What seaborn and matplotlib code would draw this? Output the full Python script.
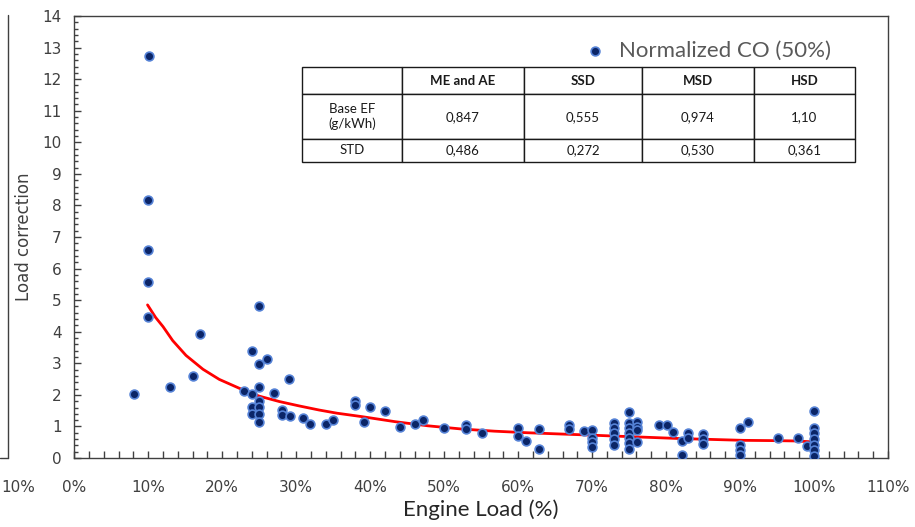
import numpy as np
import pandas as pd
import seaborn as sns
import matplotlib.pyplot as plt
from matplotlib.lines import Line2D
from matplotlib.ticker import MultipleLocator, PercentFormatter

# engine load (%) and normalized CO load correction
load_pct = [10.05, 10, 10, 10, 10, 8.1, 12.9, 16, 17, 25, 24, 25, 26.1, 29, 25, 23, 27, 24,
            25, 24, 25, 24, 25, 25, 28.1, 28.1, 29.1, 30.9, 31.9, 34, 35, 37.9, 37.9, 39.1,
            40, 42, 44, 46, 47.1, 50, 53, 53, 55.1, 60, 60, 61, 62.8, 62.8, 66.9, 66.9,
            68.9, 70, 70, 70, 70, 73, 73, 73, 73, 73, 75, 75, 75, 75, 75, 75, 75, 76.1,
            76.1, 76.1, 76.1, 79, 80.1, 81, 82.1, 82.1, 83, 83, 85, 85, 85, 90, 90, 90,
            90, 91.1, 95.1, 97.8, 99, 100, 100, 100, 100, 100, 100, 100]
load_corr = [12.73, 8.17, 6.59, 5.57, 4.48, 2.02, 2.26, 2.60, 3.93, 4.81, 3.39, 2.97, 3.13,
             2.51, 2.26, 2.12, 2.07, 2.02, 1.81, 1.63, 1.63, 1.39, 1.39, 1.15, 1.52, 1.36,
             1.34, 1.26, 1.08, 1.07, 1.20, 1.81, 1.68, 1.15, 1.62, 1.50, 0.99, 1.08, 1.20,
             0.96, 1.05, 0.91, 0.78, 0.94, 0.70, 0.54, 0.91, 0.28, 1.05, 0.91, 0.87, 0.89,
             0.62, 0.52, 0.36, 1.10, 0.94, 0.78, 0.59, 0.41, 1.47, 1.10, 0.94, 0.78, 0.62,
             0.47, 0.28, 1.15, 0.99, 0.89, 0.52, 1.05, 1.05, 0.83, 0.54, 0.09, 0.80, 0.62,
             0.76, 0.59, 0.43, 0.96, 0.41, 0.25, 0.09, 1.15, 0.62, 0.64, 0.38, 1.49, 0.94,
             0.78, 0.59, 0.41, 0.25, 0.06]

# fitted trend line (red), read point by point
fit_pct = [9.9, 11.0, 12.0, 13.3, 15.1, 17.4, 19.6, 22.3, 25.0, 27.7, 30.4, 33.1, 35.5,
           38.9, 43.4, 47.8, 52.3, 56.8, 61.3, 65.8, 69.3, 72.5, 77.0, 81.5, 85.9, 90.4,
           94.9, 97.6, 100]
fit_corr = [4.85, 4.45, 4.16, 3.72, 3.25, 2.81, 2.49, 2.21, 1.96, 1.79, 1.65, 1.52, 1.42,
            1.31, 1.15, 1.02, 0.92, 0.85, 0.80, 0.76, 0.73, 0.70, 0.66, 0.62, 0.59, 0.56,
            0.55, 0.54, 0.51]

# table of base emission factors
tbl_cols = ["", "ME and AE", "SSD", "MSD", "HSD"]
base_ef = ["0,847", "0,555", "0,974", "1,10"]
std_ef = ["0,486", "0,272", "0,530", "0,361"]

df = pd.DataFrame({"load": np.array(load_pct) / 100, "corr": load_corr})
fit = pd.DataFrame({"load": np.array(fit_pct) / 100, "corr": fit_corr})

sns.set_style("white")
plt.rcParams["font.family"] = ["DejaVu Sans"]

fig = plt.figure(figsize=(9.15, 5.27), dpi=100)
ax = fig.add_axes([0.0812, 0.1309, 0.8893, 0.8387])

sns.lineplot(data=fit, x="load", y="corr", color="red", lw=2, ax=ax, zorder=2)
sns.scatterplot(data=df, x="load", y="corr", ax=ax, s=40, color="#0b2567",
                edgecolor="#5582d6", linewidth=1.2, zorder=3, label="Normalized CO (50%)")

ax.set_xlim(0, 1.1)
ax.set_ylim(0, 14)
ax.xaxis.set_major_locator(MultipleLocator(0.1))
ax.xaxis.set_major_formatter(PercentFormatter(1.0, decimals=0))
ax.xaxis.set_minor_locator(MultipleLocator(0.02))
ax.yaxis.set_major_locator(MultipleLocator(1))
ax.yaxis.set_minor_locator(MultipleLocator(0.2))
ax.tick_params(axis="both", which="both", direction="in", color="#404040",
               bottom=True, left=True, labelsize=11, labelcolor="#404040")
ax.tick_params(axis="x", which="both", length=5, width=1, pad=16)
ax.tick_params(axis="y", which="major", length=5, width=1, pad=9)
ax.tick_params(axis="y", which="minor", length=3, width=1)
for sp in ax.spines.values():
    sp.set_color("#404040")
    sp.set_linewidth(1)

ax.set_xlabel("Engine Load (%)", family="Lato", fontsize=16, color="#262626", labelpad=3)
ax.set_ylabel("Load correction", fontsize=12, color="#404040", labelpad=7)

leg = ax.legend(loc="upper right", bbox_to_anchor=(0.955, 0.99), frameon=False,
                handletextpad=0.1, markerscale=1.0, prop={"family": "Lato", "size": 16})
for t in leg.get_texts():
    t.set_color("#595959")

# table
body = [["Base EF\n(g/kWh)"] + base_ef, ["STD"] + std_ef]
tbl = ax.table(cellText=[tbl_cols] + body, bbox=[0.2802, 0.6704, 0.6792, 0.2149],
               cellLoc="center")
col_w = [99.4, 122.6, 117.4, 112.3, 101.0]
row_h = [27.6, 44.7, 22.7]
tbl.auto_set_font_size(False)
for (r, c), cell in tbl.get_celld().items():
    cell.set_width(col_w[c])
    cell.set_height(row_h[r])
    cell.set_edgecolor("#1a1a1a")
    cell.set_linewidth(1)
    cell.set_facecolor("white")
    txt = cell.get_text()
    txt.set_fontsize(9.5)
    txt.set_family("Lato")
    txt.set_color("#1a1a1a")
    if r == 0:
        txt.set_fontweight("bold")

# leftover edge of the neighbouring panel
fig.add_artist(Line2D([8 / 915, 8 / 915], [1 - 15 / 527, 1 - 458 / 527],
                      color="#404040", lw=1))
fig.add_artist(Line2D([0, 8 / 915], [1 - 458 / 527, 1 - 458 / 527],
                      color="#404040", lw=1))
fig.text(1 / 915, 1 - 487 / 527, "10%", ha="left", va="center", fontsize=11,
         color="#404040")

fig.savefig("out.png", dpi=100)
